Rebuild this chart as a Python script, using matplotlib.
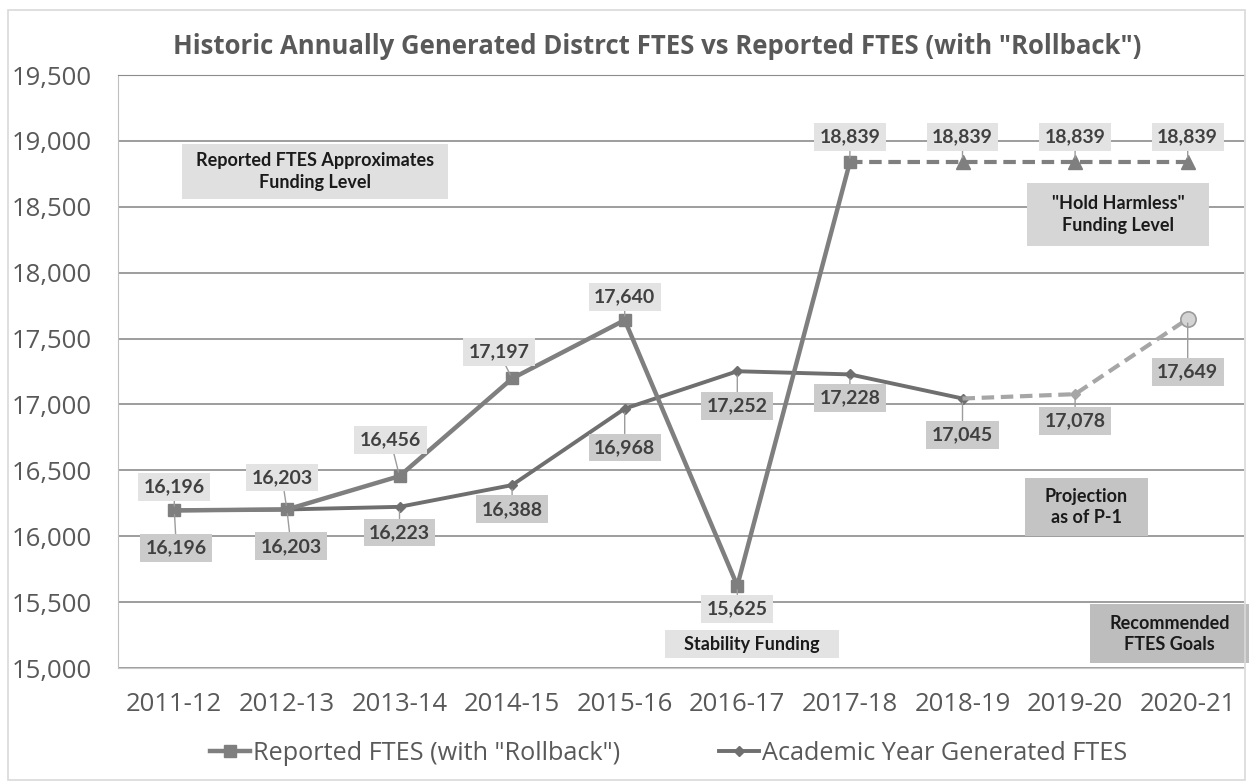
import matplotlib
matplotlib.use("Agg")
import matplotlib.pyplot as plt
from matplotlib.patches import Rectangle
from matplotlib.lines import Line2D
from matplotlib.ticker import FuncFormatter

# data
years = ['2011-12', '2012-13', '2013-14', '2014-15', '2015-16',
         '2016-17', '2017-18', '2018-19', '2019-20', '2020-21']
reported = [16196, 16203, 16456, 17197, 17640, 15625, 18839, 18839, 18839, 18839]
academic = [16196, 16203, 16223, 16388, 16968, 17252, 17228, 17045, 17078, 17649]
reported_last_actual = 6   # 2017-18, after that "hold harmless"
academic_last_actual = 7   # 2018-19, after that projection / goal

# label offsets in points (dx, dy)
rep_offsets = [(0, 17), (-3.5, 23), (-6.5, 26), (-9.5, 19), (0, 16.5),
               (0, -16.5), (0, 18), (0, 18), (0, 18), (0, 18)]
aca_offsets = [(1.5, -27), (3, -26.5), (0, -18.5), (0, -17.5), (0, -28),
               (0, -25), (0, -17), (0, -26), (0, -19.5), (0, -38)]

# text boxes: text, x center, y center, width (categories), height (FTES), fill
notes = [
    ('Reported FTES Approximates\nFunding Level', 1.25, 18768, 2.37, 417, '#e0e0e0'),
    ('Stability Funding', 5.13, 15182, 1.55, 212, '#e3e3e3'),
    ('"Hold Harmless"\nFunding Level', 8.38, 18441, 1.62, 478, '#d6d6d6'),
    ('Projection\nas of P-1', 8.10, 16222, 1.09, 440, '#c4c4c4'),
    ('Recommended\nFTES Goals', 8.84, 15261, 1.41, 448, '#bdbdbd'),
]

REP_C = '#7f7f7f'
ACA_C = '#6f6f6f'
PROJ_C = '#a6a6a6'

fig = plt.figure(figsize=(12.54, 7.83), dpi=100)
fig.patch.set_facecolor('white')
fig.patches.append(Rectangle((8/1254, 3/783), 1237/1254, 770/783, transform=fig.transFigure,
                             fill=False, edgecolor='#d9d9d9', lw=1.2))
ax = fig.add_axes([118/1254, 1 - 668/783, 1126/1254, 593/783])

x = list(range(len(years)))

# academic year generated
ra = academic_last_actual
ax.plot(x[:ra+1], academic[:ra+1], color=ACA_C, lw=2.8, marker='D', ms=5, zorder=3)
ax.plot(x[ra:], academic[ra:], color=PROJ_C, lw=3, ls=(0, (3, 1.6)), marker='D', ms=5,
        markevery=[1], zorder=3)
ax.plot(x[-1], academic[-1], marker='o', ms=11, mfc='#d4d4d4', mec='#9a9a9a', mew=1.2,
        ls='none', zorder=4)

# reported with rollback
rr = reported_last_actual
ax.plot(x[:rr+1], reported[:rr+1], color=REP_C, lw=3.2, marker='s', ms=8, zorder=5)
ax.plot(x[rr:], reported[rr:], color=REP_C, lw=3, ls=(0, (3, 1.6)), marker='^', ms=10,
        markevery=[1, 2, 3], zorder=5)

label_font = dict(family='Lato', fontsize=14, fontweight='bold', color='#404040')
for i in x:
    ax.annotate(f'{reported[i]:,}', (i, reported[i]), xytext=rep_offsets[i],
                textcoords='offset points', ha='center', va='center', zorder=6,
                bbox=dict(boxstyle='square,pad=0.28', fc='#e3e3e3', ec='none'),
                arrowprops=dict(arrowstyle='-', color='#9c9c9c', lw=1, shrinkA=0, shrinkB=3),
                **label_font)
    ax.annotate(f'{academic[i]:,}', (i, academic[i]), xytext=aca_offsets[i],
                textcoords='offset points', ha='center', va='center', zorder=6,
                bbox=dict(boxstyle='square,pad=0.28', fc='#cbcbcb', ec='none'),
                arrowprops=dict(arrowstyle='-', color='#9c9c9c', lw=1, shrinkA=0, shrinkB=3),
                **label_font)

for txt, cx, cy, w, h, fc in notes:
    ax.add_patch(Rectangle((cx - w/2, cy - h/2), w, h, fc=fc, ec='none', zorder=2,
                           clip_on=False))
    ax.text(cx, cy, txt, ha='center', va='center', family='Lato', fontweight='bold',
            fontsize=13, color='#1a1a1a', linespacing=1.3, zorder=2.5)

ax.set_xlim(-0.5, 9.5)
ax.set_ylim(15000, 19500)
ax.set_yticks(range(15000, 19501, 500))
ax.yaxis.set_major_formatter(FuncFormatter(lambda v, p: f'{int(v):,}'))
ax.set_xticks(x)
ax.set_xticklabels(years)
ax.tick_params(length=0)
ax.tick_params(axis='y', pad=19, labelsize=18.5, labelcolor='#595959')
ax.tick_params(axis='x', pad=17, labelsize=18.5, labelcolor='#595959')
for lab in ax.get_xticklabels() + ax.get_yticklabels():
    lab.set_family('Open Sans')
ax.grid(axis='y', color='#8c8c8c', lw=1.2)
ax.set_axisbelow(True)
ax.spines['left'].set_color('#bfbfbf')
ax.spines['bottom'].set_color('#c8c8c8')
ax.spines['top'].set_color('#8c8c8c')
ax.spines['right'].set_visible(False)
ax.set_facecolor('white')

fig.text(0.524, 1 - 47/783, 'Historic Annually Generated Distrct FTES vs Reported FTES (with "Rollback")',
         ha='center', va='center', family='Open Sans', fontweight='bold', fontsize=18.5,
         color='#595959')

handles = [Line2D([], [], color=REP_C, lw=3.2, marker='s', ms=8),
           Line2D([], [], color=ACA_C, lw=2.8, marker='D', ms=5)]
leg = fig.legend(handles, ['Reported FTES (with "Rollback")', 'Academic Year Generated FTES'],
                 loc='center', bbox_to_anchor=(0.533, 1 - 753/783), ncol=2, frameon=False,
                 handlelength=1.6, handletextpad=0.1, columnspacing=3.9,
                 prop=dict(family='Open Sans', size=18.2))
for t in leg.get_texts():
    t.set_color('#595959')

fig.savefig('out.png', dpi=100)
